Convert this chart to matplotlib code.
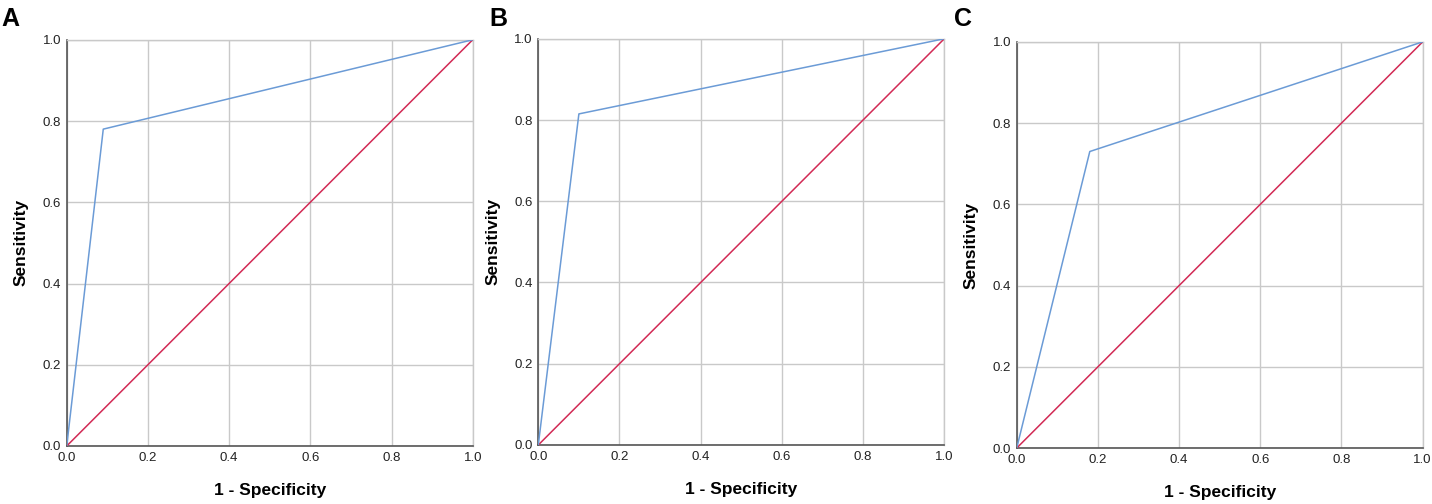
#!/usr/bin/env python3
"""Three ROC curves (panels A-C) with the chance diagonal, SPSS style."""
import matplotlib
matplotlib.use("Agg")
import matplotlib.pyplot as plt

plt.rcParams["font.family"] = ["Liberation Sans", "DejaVu Sans"]

PANELS = ["A", "B", "C"]
# ROC vertices (1 - specificity, sensitivity) per panel
ROC_FPR = [
    [0.0, 0.09, 1.0],
    [0.0, 0.10, 1.0],
    [0.0, 0.18, 1.0],
]
ROC_TPR = [
    [0.0, 0.78, 1.0],
    [0.0, 0.815, 1.0],
    [0.0, 0.73, 1.0],
]
REF_LINE = [0.0, 1.0]
TICKS = [0.0, 0.2, 0.4, 0.6, 0.8, 1.0]
TICK_LABELS = ["0.0", "0.2", "0.4", "0.6", "0.8", "1.0"]

BLUE = "#6b9bd6"
RED = "#d22a55"
GRID = "#c9c9c9"

fig = plt.figure(figsize=(14.32, 5.04), dpi=100)
lefts = [0.0466, 0.3759, 0.7100]
bottoms = [0.1151, 0.1171, 0.1110]
letter_x = [0.001, 0.342, 0.666]

for i, name in enumerate(PANELS):
    ax = fig.add_axes([lefts[i], bottoms[i], 0.2835, 0.806])
    ax.set_xlim(0, 1)
    ax.set_ylim(0, 1)
    ax.set_xticks(TICKS)
    ax.set_yticks(TICKS)
    ax.set_xticklabels(TICK_LABELS)
    ax.set_yticklabels(TICK_LABELS)
    ax.tick_params(length=0, pad=4, labelsize=9.5, colors="#222222")
    ax.grid(True, color=GRID, linewidth=1.0)
    ax.set_axisbelow(True)
    for side in ("top", "right"):
        ax.spines[side].set_color(GRID)
        ax.spines[side].set_linewidth(1.0)
    for side in ("left", "bottom"):
        ax.spines[side].set_color("#555555")
        ax.spines[side].set_linewidth(1.2)

    ax.plot(REF_LINE, REF_LINE, color=RED, linewidth=1.1, zorder=3)
    ax.plot(ROC_FPR[i], ROC_TPR[i], color=BLUE, linewidth=1.1, zorder=4)

    ax.set_xlabel("1 - Specificity", fontsize=12.5, fontweight="bold")
    ax.set_ylabel("Sensitivity", fontsize=12.5, fontweight="bold")
    ax.xaxis.set_label_coords(0.5, -0.091)
    ax.yaxis.set_label_coords(-0.093, 0.5)

    fig.text(letter_x[i], 0.987, name, fontsize=18, fontweight="bold",
             ha="left", va="top")

fig.savefig("out.png", dpi=100)
